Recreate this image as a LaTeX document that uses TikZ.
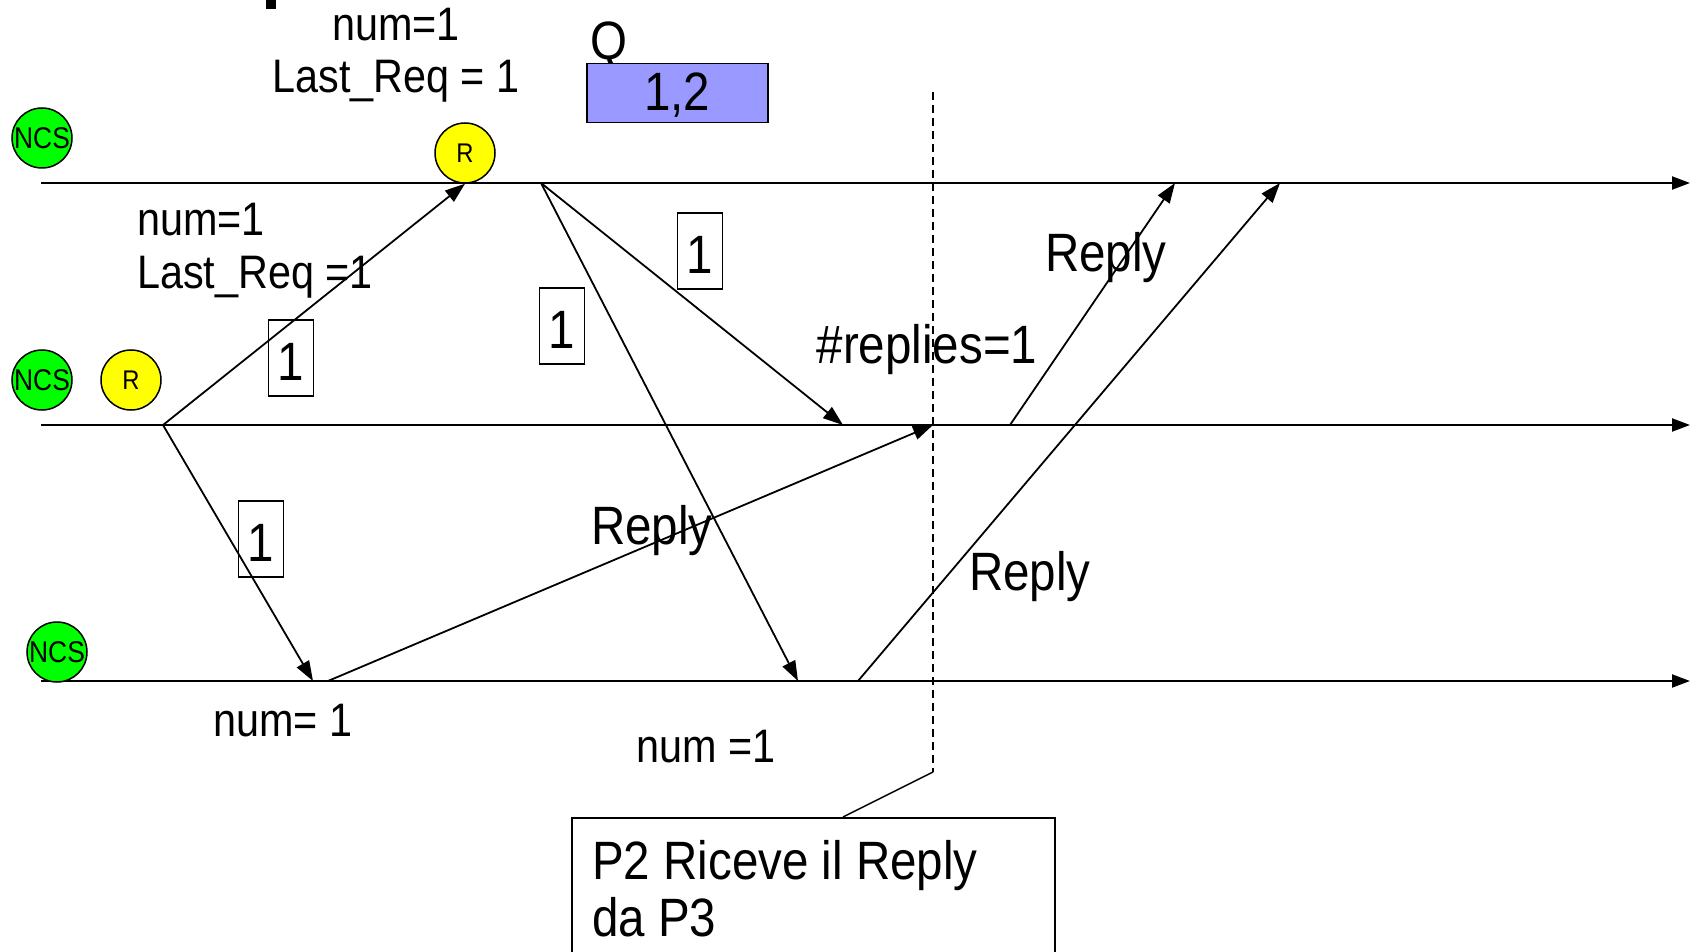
\documentclass[tikz,border=0pt]{standalone}
\usepackage{fontspec}
\setmainfont{Liberation Sans}[FakeStretch=0.88]
\usetikzlibrary{arrows.meta}
\definecolor{ncsgreen}{HTML}{00FF00}
\definecolor{ryellow}{HTML}{FFFF00}
\definecolor{qblue}{HTML}{9999FF}
\begin{document}
\begin{tikzpicture}[x=1pt,y=-1pt,
 tl/.style={line width=2pt,-{Triangle[length=18pt,width=13pt]}},
 msg/.style={line width=1.8pt,-{Triangle[length=20pt,width=14pt]}},
 big/.style={font=\fontsize{54}{60}\selectfont, inner sep=0pt},
 small/.style={font=\fontsize{47}{52}\selectfont, inner sep=0pt},
 ncs/.style={circle, draw, line width=1.5pt, fill=ncsgreen, minimum size=60pt, inner sep=0pt, font=\fontsize{30}{32}\selectfont},
 rnode/.style={circle, draw, line width=1.5pt, fill=ryellow, minimum size=60pt, inner sep=0pt, font=\fontsize{27}{30}\selectfont},
 numbox/.style={draw, line width=1.5pt, minimum width=45pt, minimum height=76pt, inner sep=0pt, text height=44pt, text depth=0pt, font=\fontsize{54}{60}\selectfont},
 guide/.style={line width=1.5pt, dash pattern=on 8pt off 5pt},
 callbox/.style={draw, line width=1.5pt, minimum width=483pt, minimum height=170pt, inner sep=0pt, anchor=north west}
]
\useasboundingbox (0,0) rectangle (1690,952);
\fill (266,0) rectangle (276,9);

% timelines
\coordinate (p1s) at (41,183);  \coordinate (p1e) at (1690,183);
\coordinate (p2s) at (41,425);  \coordinate (p2e) at (1690,425);
\coordinate (p3s) at (41,681);  \coordinate (p3e) at (1690,681);
\draw[tl] (p1s) -- (p1e);
\draw[tl] (p2s) -- (p2e);
\draw[tl] (p3s) -- (p3e);

% state circles
\node[ncs] (ncs1) at (42,138) {NCS};
\node[ncs] (ncs2) at (42,380) {NCS};
\node[ncs] (ncs3) at (57,652) {NCS};
\node[rnode] (r1) at (465,153) {R};
\node[rnode] (r2) at (131,380) {R};

% queue
\node[big] (q) at (609,46) {Q};
\node[draw, line width=1.5pt, fill=qblue, minimum width=181pt, minimum height=59pt, anchor=north west, inner sep=0pt, text height=40pt, text depth=6pt, font=\fontsize{54}{60}\selectfont] (qbox) at (586,63) {1,2};

% labels
\node[small] (n1) at (396,25) {num=1};
\node[small] (lr1) at (396,81) {Last\_Req = 1};
\node[small, anchor=west] (n2) at (137,220) {num=1};
\node[small, anchor=west] (lr2) at (137,277) {Last\_Req =1};
\node[small] (n3) at (283,721) {num= 1};
\node[small] (n4) at (706,747) {num =1};
\node[big] (rep1) at (1106,258) {Reply};
\node[big] (nrep) at (927,350) {\#replies=1};
\node[big] (rep2) at (652,531) {Reply};
\node[big] (rep3) at (1030,577) {Reply};

% message event points
\coordinate (s2) at (163,425);
\coordinate (s3) at (313,681);
\coordinate (s1) at (541,183);
\coordinate (e2a) at (843,425);
\coordinate (e3a) at (798,681);
\coordinate (s3b) at (328,681);
\coordinate (e2b) at (933,425);
\coordinate (s2b) at (1010,425);
\coordinate (e1a) at (1175,183);
\coordinate (s3c) at (858,681);
\coordinate (e1b) at (1280,183);

\draw[msg] (s2) -- (r1.south);
\draw[msg] (s2) -- (s3);
\draw[msg] (s1) -- (e2a);
\draw[msg] (s1) -- (e3a);
\draw[msg] (s3b) -- (e2b);
\draw[msg] (s2b) -- (e1a);
\draw[msg] (s3c) -- (e1b);

% number boxes
\node[numbox] (b1) at (291,358) {1};
\node[numbox] (b2) at (562,326) {1};
\node[numbox] (b3) at (700,251) {1};
\node[numbox] (b4) at (261,539) {1};

% callout
\coordinate (dtop) at (933,92);
\coordinate (dbot) at (933,772);
\draw[guide] (dtop) -- (dbot);
\node[callbox] (callout) at (571,817) {};
\draw[line width=1.5pt] (dbot) -- ([xshift=272pt]callout.north west);
\node[font=\fontsize{54}{57}\selectfont, align=left, anchor=west, inner sep=0pt] (ctext) at (592,889) {P2 Riceve il Reply\\da P3};
\end{tikzpicture}
\end{document}
